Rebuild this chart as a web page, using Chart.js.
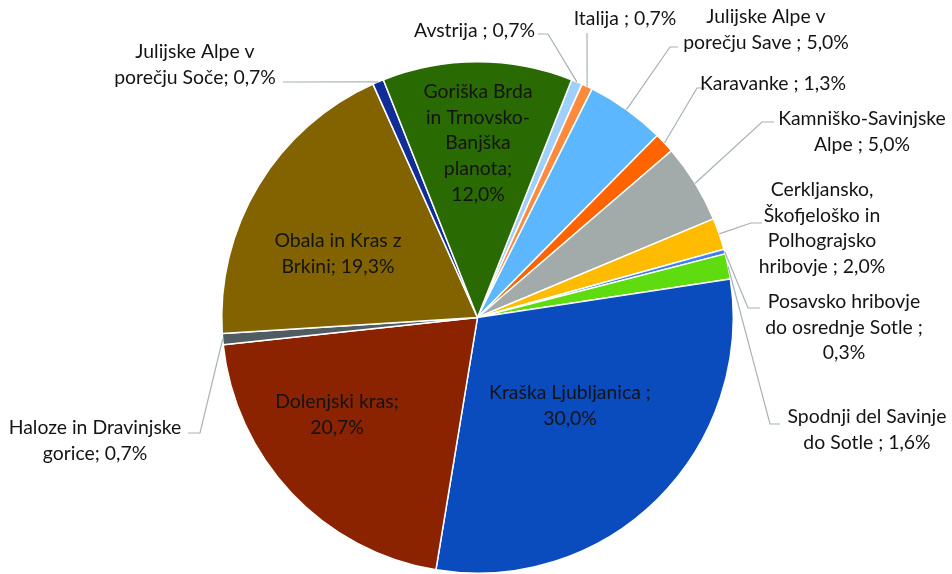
<!DOCTYPE html>
<html>
<head>
<meta charset="utf-8">
<script src="https://cdn.jsdelivr.net/npm/chart.js@4.4.1/dist/chart.umd.min.js"></script>
<style>
  html, body { margin: 0; padding: 0; background: #fff; }
  #wrap { width: 952px; height: 574px; }
</style>
</head>
<body>
<div id="wrap"><canvas id="pie" width="952" height="574"></canvas></div>
<script>
// --- Data (share of area, %) ---
const regions = [
  'Avstrija',
  'Italija',
  'Julijske Alpe v porečju Save',
  'Karavanke',
  'Kamniško-Savinjske Alpe',
  'Cerkljansko, Škofjeloško in Polhograjsko hribovje',
  'Posavsko hribovje do osrednje Sotle',
  'Spodnji del Savinje do Sotle',
  'Kraška Ljubljanica',
  'Dolenjski kras',
  'Haloze in Dravinjske gorice',
  'Obala in Kras z Brkini',
  'Julijske Alpe v porečju Soče',
  'Goriška Brda in Trnovsko-Banjška planota'
];
const shares = [0.7, 0.7, 5.0, 1.3, 5.0, 2.0, 0.3, 1.6, 30.0, 20.7, 0.7, 19.3, 0.7, 12.0];
const sliceColors = [
  '#9fd0fb', '#ff8a3d', '#5db7ff', '#ff6400', '#a3abaa', '#ffbb00', '#3f7ef5',
  '#5edc10', '#0a4bbe', '#8b2300', '#4f5c62', '#826300', '#102d98', '#2a6a02'
];

// label text as wrapped in the original (Excel) chart
const labelLines = [
  ['Avstrija ; 0,7%'],
  ['Italija ; 0,7%'],
  ['Julijske Alpe v', 'porečju Save ; 5,0%'],
  ['Karavanke ; 1,3%'],
  ['Kamniško-Savinjske', 'Alpe ; 5,0%'],
  ['Cerkljansko,', 'Škofjeloško in', 'Polhograjsko', 'hribovje ; 2,0%'],
  ['Posavsko hribovje', 'do osrednje Sotle ;', '0,3%'],
  ['Spodnji del Savinje', 'do Sotle ; 1,6%'],
  ['Kraška Ljubljanica ;', '30,0%'],
  ['Dolenjski kras;', '20,7%'],
  ['Haloze in Dravinjske', 'gorice; 0,7%'],
  ['Obala in Kras z', 'Brkini; 19,3%'],
  ['Julijske Alpe v', 'porečju Soče; 0,7%'],
  ['Goriška Brda', 'in Trnovsko-', 'Banjška', 'planota;', '12,0%']
];

// --- Label layout (text block centre x, first line y, leader start + elbow) ---
const labelLayout = [
  { x: 477, y: 31, align: 'right', ax: 535, lead: [[538, 34], [548, 34]] },
  { x: 625, y: 19, lead: [[587, 33]] },
  { x: 766, y: 17, lead: [[678, 47], [670, 47]] },
  { x: 773, y: 84, lead: [[706, 88], [697, 88]] },
  { x: 862, y: 119, lead: [[774, 122], [762, 122]] },
  { x: 822, y: 190, lead: [[762, 223], [751, 223]] },
  { x: 844, y: 302, lead: [[760, 308], [748, 308]] },
  { x: 867, y: 417, lead: [[780, 424], [770, 424]] },
  { x: 570, y: 393 },
  { x: 337, y: 402 },
  { x: 95, y: 428, lead: [[188, 433], [200, 433]] },
  { x: 338, y: 241 },
  { x: 195, y: 52, lead: [[283, 82]] },
  { x: 478, y: 92 }
];

const lineHeight = 25.6;
const labelFont = '19.4px Lato, "Open Sans", sans-serif';

// --- Plugin: draw labels with leader lines ---
const labelPlugin = {
  id: 'sliceLabels',
  afterDatasetsDraw(chart) {
    const ctx = chart.ctx;
    const arcs = chart.getDatasetMeta(0).data;
    ctx.save();
    ctx.font = labelFont;
    ctx.textBaseline = 'middle';

    arcs.forEach((arc, i) => {
      const lay = labelLayout[i];
      if (lay.lead) {
        const { x, y, startAngle, endAngle, outerRadius } = arc.getProps(['x', 'y', 'startAngle', 'endAngle', 'outerRadius'], true);
        const mid = (startAngle + endAngle) / 2;
        const px = x + Math.cos(mid) * outerRadius;
        const py = y + Math.sin(mid) * outerRadius;
        ctx.strokeStyle = '#a7b1b4';
        ctx.lineWidth = 1.2;
        ctx.beginPath();
        ctx.moveTo(lay.lead[0][0], lay.lead[0][1]);
        for (let k = 1; k < lay.lead.length; k++) ctx.lineTo(lay.lead[k][0], lay.lead[k][1]);
        ctx.lineTo(px, py);
        ctx.stroke();
      }
      ctx.fillStyle = '#141414';
      labelLines[i].forEach((txt, j) => {
        if (lay.align === 'right') {
          ctx.textAlign = 'right';
          ctx.fillText(txt, lay.ax, lay.y + j * lineHeight);
        } else {
          ctx.textAlign = 'center';
          ctx.fillText(txt, lay.x, lay.y + j * lineHeight);
        }
      });
    });
    ctx.restore();
  }
};

new Chart(document.getElementById('pie').getContext('2d'), {
  type: 'pie',
  data: {
    labels: regions,
    datasets: [{
      data: shares,
      backgroundColor: sliceColors,
      borderColor: '#ffffff',
      borderWidth: 1.5
    }]
  },
  options: {
    responsive: false,
    devicePixelRatio: 1,
    animation: false,
    rotation: 21.6,
    layout: { padding: { top: 61, bottom: 0, left: 3, right: 0 } },
    plugins: {
      legend: { display: false },
      tooltip: { enabled: false }
    }
  },
  plugins: [labelPlugin]
});
</script>
</body>
</html>
